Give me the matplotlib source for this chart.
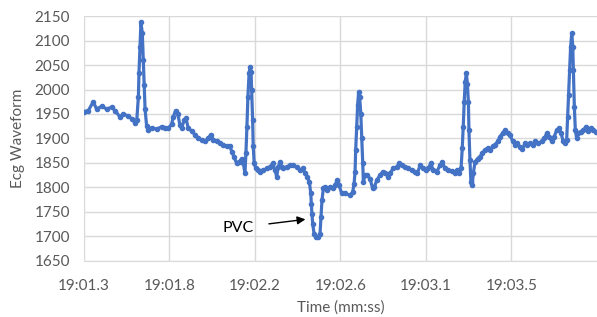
import matplotlib
matplotlib.use("Agg")
from matplotlib import pyplot as plt

# time since 19:01.340 in ms, and ECG value
t_ms = [0, 22, 47, 64, 90, 115, 141, 157, 183, 199, 225, 242, 259, 268, 276, 279,
        284, 289, 296, 301, 305, 310, 318, 326, 344, 369, 394, 411, 428, 445, 453,
        465, 476, 487, 496, 508, 518, 529, 547, 563, 580, 597, 614, 631, 643, 656,
        674, 690, 707, 724, 741, 750, 761, 775, 787, 800, 809, 817, 822, 827, 832,
        838, 843, 848, 851, 856, 859, 864, 872, 885, 893, 910, 927, 944, 958, 970,
        978, 986, 995, 1004, 1012, 1029, 1046, 1062, 1080, 1096, 1110, 1122, 1133,
        1144, 1151, 1154, 1157, 1161, 1168, 1178, 1189, 1198, 1203, 1208, 1215,
        1223, 1235, 1249, 1262, 1274, 1286, 1294, 1308, 1325, 1350, 1364, 1371,
        1376, 1379, 1384, 1389, 1394, 1399, 1405, 1410, 1415, 1418, 1426, 1438,
        1452, 1465, 1474, 1486, 1503, 1516, 1528, 1545, 1553, 1570, 1587, 1600,
        1613, 1629, 1646, 1663, 1680, 1692, 1706, 1719, 1736, 1748, 1760, 1773,
        1790, 1807, 1819, 1832, 1849, 1866, 1883, 1895, 1905, 1914, 1920, 1925,
        1930, 1935, 1941, 1946, 1951, 1954, 1959, 1964, 1971, 1976, 1985, 1998,
        2010, 2022, 2035, 2049, 2061, 2075, 2086, 2100, 2112, 2125, 2137, 2151,
        2162, 2176, 2188, 2199, 2213, 2225, 2238, 2250, 2264, 2278, 2289, 2306,
        2323, 2337, 2349, 2362, 2374, 2387, 2399, 2413, 2421, 2433, 2443, 2450,
        2455, 2460, 2465, 2470, 2476, 2481, 2484, 2489, 2494, 2501, 2509, 2521,
        2535, 2548, 2560, 2572, 2585, 2599]
ecg = [1955, 1957, 1975, 1960, 1966, 1960, 1964, 1957, 1944, 1950, 1946, 1940,
       1932, 1938, 1985, 2033, 2087, 2137, 2115, 2060, 2010, 1960, 1925, 1918,
       1922, 1919, 1924, 1921, 1921, 1929, 1944, 1957, 1951, 1927, 1921, 1938,
       1941, 1921, 1915, 1908, 1900, 1897, 1894, 1900, 1908, 1897, 1894, 1890,
       1887, 1884, 1884, 1873, 1863, 1849, 1852, 1859, 1849, 1829, 1870, 1924,
       1985, 2033, 2046, 2036, 1999, 1937, 1884, 1849, 1839, 1835, 1832, 1835,
       1839, 1842, 1849, 1835, 1822, 1842, 1852, 1842, 1839, 1842, 1845, 1845,
       1842, 1835, 1839, 1829, 1822, 1811, 1788, 1767, 1746, 1726, 1705, 1699,
       1699, 1705, 1740, 1774, 1798, 1801, 1794, 1801, 1798, 1805, 1815, 1805,
       1788, 1788, 1784, 1791, 1808, 1832, 1876, 1924, 1968, 1995, 1985, 1951,
       1900, 1849, 1811, 1825, 1825, 1818, 1798, 1801, 1815, 1825, 1832, 1829,
       1822, 1829, 1839, 1842, 1849, 1845, 1842, 1839, 1835, 1832, 1829, 1845,
       1839, 1835, 1839, 1849, 1835, 1832, 1845, 1852, 1839, 1835, 1834, 1829,
       1835, 1829, 1839, 1880, 1924, 1975, 2016, 2033, 2012, 1975, 1917, 1856,
       1811, 1805, 1829, 1852, 1859, 1863, 1870, 1877, 1880, 1877, 1884, 1887,
       1894, 1904, 1911, 1917, 1911, 1908, 1894, 1887, 1890, 1883, 1878, 1890,
       1887, 1890, 1887, 1894, 1890, 1894, 1900, 1911, 1904, 1894, 1904, 1917,
       1921, 1911, 1894, 1890, 1897, 1944, 1989, 2040, 2087, 2115, 2087, 2040,
       1965, 1917, 1900, 1911, 1914, 1917, 1924, 1916, 1921, 1917, 1914]

tick_labels = ["19:01.3", "19:01.8", "19:02.2", "19:02.6", "19:03.1", "19:03.5"]
tick_step_ms = 434
y_ticks = [1650, 1700, 1750, 1800, 1850, 1900, 1950, 2000, 2050, 2100, 2150]

plt.rcParams['font.family'] = ['Lato', 'DejaVu Sans']
grey = '#595959'

fig = plt.figure(figsize=(5.97, 3.17), dpi=100)
ax = fig.add_axes([0.1407, 0.1767, 0.8593, 0.7728])

ax.plot(t_ms, ecg, color='#4472C4', lw=2.3, marker='o', markersize=3,
        zorder=3)

ax.set_xlim(0, tick_step_ms * 6)
ax.set_ylim(1650, 2150)
ax.set_xticks([i * tick_step_ms for i in range(len(tick_labels))])
ax.set_xticklabels(tick_labels)
ax.set_yticks(y_ticks)

ax.grid(True, color='#D9D9D9', lw=1)
ax.set_axisbelow(True)
for s in ['left', 'right', 'top']:
    ax.spines[s].set_visible(False)
ax.spines['bottom'].set_color('#D9D9D9')
ax.tick_params(length=0, labelsize=11, labelcolor=grey)
ax.tick_params(axis='x', pad=13)
ax.tick_params(axis='y', pad=10)

ax.set_xlabel('Time (mm:ss)', fontsize=11, color=grey, labelpad=5)
ax.set_ylabel('Ecg Waveform', fontsize=11, color=grey, labelpad=7)

# PVC marker
ax.annotate('PVC', xy=(1124, 1735), xytext=(782, 1718), fontsize=11.5,
            ha='center', va='center',
            arrowprops=dict(arrowstyle='-|>', color='black', lw=1,
                            mutation_scale=12, shrinkA=9, shrinkB=0))

fig.savefig('out.png', dpi=100)
